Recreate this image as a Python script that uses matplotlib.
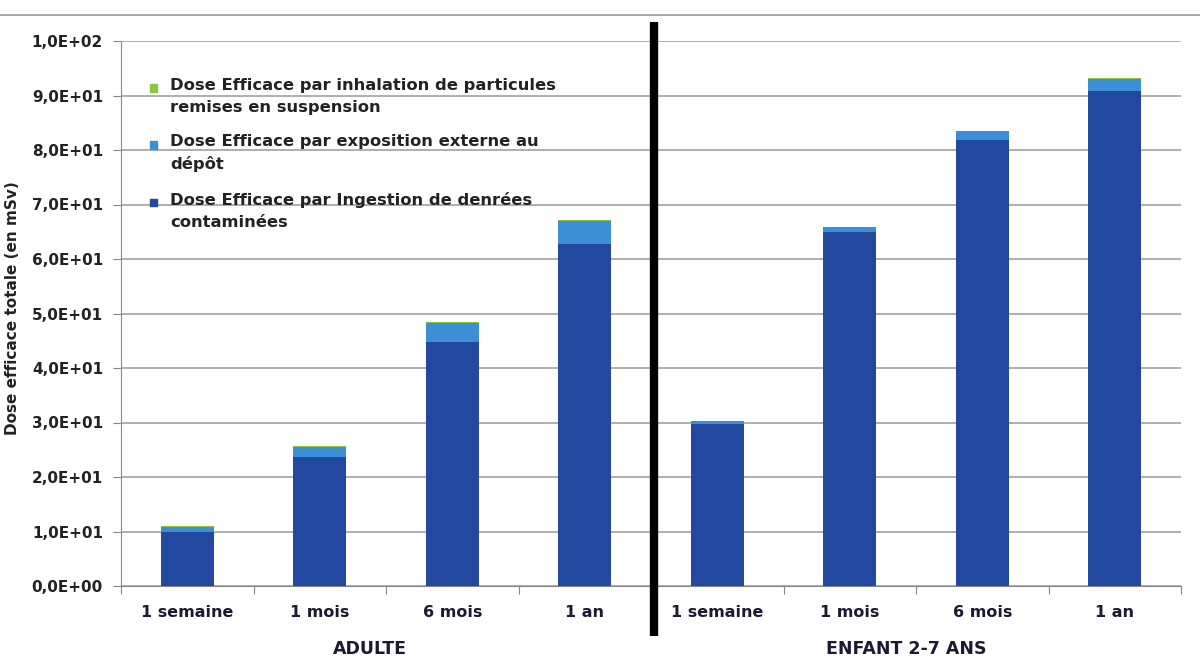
import matplotlib
matplotlib.use("Agg")
import matplotlib.pyplot as plt
import numpy as np
from matplotlib.lines import Line2D
from matplotlib.patches import Patch, Rectangle
from matplotlib.legend_handler import HandlerPatch
from matplotlib.ticker import FuncFormatter, MultipleLocator

# données (mSv)
periodes = ["1 semaine", "1 mois", "6 mois", "1 an"]
groupes = ["ADULTE", "ENFANT 2-7 ANS"]
ingestion = [10.0, 23.6, 44.8, 62.7, 29.8, 64.9, 81.8, 90.9]
externe = [0.9, 1.9, 3.4, 4.3, 0.4, 0.9, 1.6, 2.2]
inhalation = [0.2, 0.2, 0.2, 0.2, 0.1, 0.1, 0.1, 0.2]

labels = [
    "Dose Efficace par inhalation de particules\nremises en suspension",
    "Dose Efficace par exposition externe au\ndépôt",
    "Dose Efficace par Ingestion de denrées\ncontaminées",
]
c_ing = "#2248a0"
c_ext = "#3b8fd4"
c_inh = "#8cc63e"
c_txt = "#1a1a30"

plt.rcParams["font.family"] = ["DejaVu Sans"]
plt.rcParams["font.weight"] = "bold"

fig = plt.figure(figsize=(12, 6.56), dpi=100)
ax = fig.add_axes([121 / 1200, 70 / 656, 1060 / 1200, 545 / 656])

x = np.arange(len(ingestion))
b1 = np.array(ingestion)
b2 = b1 + np.array(externe)
ax.bar(x, ingestion, width=0.4, color=c_ing, zorder=3)
ax.bar(x, externe, width=0.4, bottom=b1, color=c_ext, zorder=3)
ax.bar(x, inhalation, width=0.4, bottom=b2, color=c_inh, zorder=3)

ax.set_xlim(-0.5, len(x) - 0.5)
ax.set_ylim(0, 100)
ax.yaxis.set_major_locator(MultipleLocator(10))
ax.yaxis.set_major_formatter(FuncFormatter(
    lambda v, p: ("%.1E" % v).replace(".", ",")))
ax.grid(axis="y", color="#999999", linewidth=1.1, zorder=0)
ax.tick_params(axis="y", length=6, color="#888888", labelsize=11,
               labelcolor="#222222", pad=7)

# ticks de catégories entre les barres
ax.set_xticks(np.arange(-0.5, len(x), 1.0))
ax.set_xticklabels([])
ax.tick_params(axis="x", length=6, color="#888888")
for i, lab in enumerate(periodes * 2):
    ax.text(i, -4.9, lab, ha="center", va="center", fontsize=11.5,
            color=c_txt)
for g, lab in enumerate(groupes):
    ax.text(1.38 + 4.05 * g, -11.5, lab, ha="center", va="center",
            fontsize=12.5, color=c_txt)

for s in ["top", "right"]:
    ax.spines[s].set_visible(False)
ax.spines["left"].set_color("#888888")
ax.spines["bottom"].set_color("#888888")

ax.set_ylabel("Dose efficace totale (en mSv)", fontsize=11,
              fontweight="bold", color="#222222")
ax.yaxis.set_label_coords(-0.095, 0.51)

# séparation adulte / enfant
ax.plot([3.52, 3.52], [-9.2, 103.4], color="black", linewidth=6,
        clip_on=False, zorder=5, solid_capstyle="butt")

# trait de bordure en haut
fig.add_artist(Line2D([0, 1], [1 - 15 / 656, 1 - 15 / 656],
                      color="#999999", linewidth=1.2))


# petit carré aligné sur la première ligne du libellé
def carre_haut(legend, orig_handle, xdescent, ydescent, width, height, fontsize):
    s = 0.45 * fontsize
    return Rectangle((-xdescent, -ydescent + height - s * 1.1), s, s)


handles = [Patch(color=c_inh), Patch(color=c_ext), Patch(color=c_ing)]
leg = ax.legend(handles, labels, loc="upper left",
                bbox_to_anchor=(0.021, 0.944),
                frameon=False, handlelength=0.5, handleheight=2.2,
                handletextpad=0.75, labelspacing=1.2, borderaxespad=0,
                prop={"weight": "bold", "size": 11.8}, labelcolor="#222222",
                handler_map={Patch: HandlerPatch(patch_func=carre_haut)})
for t in leg.get_texts():
    t.set_linespacing(1.55)

fig.savefig("out.png", dpi=100)
